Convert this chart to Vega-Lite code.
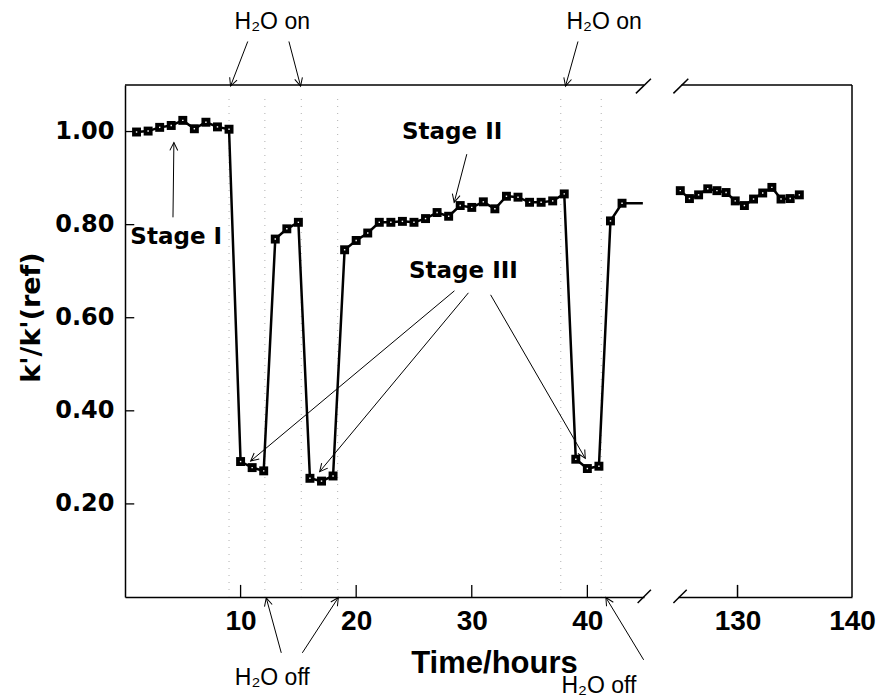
{
  "$schema": "https://vega.github.io/schema/vega-lite/v6.json",
  "padding": {"left": 17, "top": 10, "right": 5, "bottom": 0},
  "background": "white",
  "bounds": "flush",
  "spacing": 34,
  "config": {
    "view": {"stroke": null},
    "axis": {"grid": false, "ticks": false, "domainColor": "black", "domainWidth": 1.5, "labelColor": "black", "titleColor": "black", "labelFlush": false, "labelOverlap": false}
  },
  "datasets": {
    "left": [
      {"hour": 1, "k": 0.999, "pt": 1}, {"hour": 2, "k": 1.001, "pt": 1}, {"hour": 3, "k": 1.009, "pt": 1},
      {"hour": 4, "k": 1.013, "pt": 1}, {"hour": 5, "k": 1.024, "pt": 1}, {"hour": 6, "k": 1.006, "pt": 1},
      {"hour": 7, "k": 1.020, "pt": 1}, {"hour": 8, "k": 1.010, "pt": 1}, {"hour": 9, "k": 1.005, "pt": 1},
      {"hour": 10, "k": 0.291, "pt": 1}, {"hour": 11, "k": 0.278, "pt": 1}, {"hour": 12, "k": 0.271, "pt": 1},
      {"hour": 13, "k": 0.769, "pt": 1}, {"hour": 14, "k": 0.791, "pt": 1}, {"hour": 15, "k": 0.805, "pt": 1},
      {"hour": 16, "k": 0.255, "pt": 1}, {"hour": 17, "k": 0.249, "pt": 1}, {"hour": 18, "k": 0.260, "pt": 1},
      {"hour": 19, "k": 0.746, "pt": 1}, {"hour": 20, "k": 0.766, "pt": 1}, {"hour": 21, "k": 0.782, "pt": 1},
      {"hour": 22, "k": 0.805, "pt": 1}, {"hour": 23, "k": 0.805, "pt": 1}, {"hour": 24, "k": 0.807, "pt": 1},
      {"hour": 25, "k": 0.805, "pt": 1}, {"hour": 26, "k": 0.813, "pt": 1}, {"hour": 27, "k": 0.826, "pt": 1},
      {"hour": 28, "k": 0.818, "pt": 1}, {"hour": 29, "k": 0.841, "pt": 1}, {"hour": 30, "k": 0.837, "pt": 1},
      {"hour": 31, "k": 0.849, "pt": 1}, {"hour": 32, "k": 0.834, "pt": 1}, {"hour": 33, "k": 0.861, "pt": 1},
      {"hour": 34, "k": 0.859, "pt": 1}, {"hour": 35, "k": 0.848, "pt": 1}, {"hour": 36, "k": 0.848, "pt": 1},
      {"hour": 37, "k": 0.851, "pt": 1}, {"hour": 38, "k": 0.866, "pt": 1}, {"hour": 39, "k": 0.296, "pt": 1},
      {"hour": 40, "k": 0.276, "pt": 1}, {"hour": 41, "k": 0.281, "pt": 1}, {"hour": 42, "k": 0.808, "pt": 1},
      {"hour": 43, "k": 0.846, "pt": 1}, {"hour": 44.8, "k": 0.846, "pt": 0}
    ],
    "right": [
      {"hour": 125.0, "k": 0.873}, {"hour": 125.8, "k": 0.856}, {"hour": 126.6, "k": 0.864},
      {"hour": 127.4, "k": 0.877}, {"hour": 128.2, "k": 0.873}, {"hour": 129.0, "k": 0.869},
      {"hour": 129.8, "k": 0.851}, {"hour": 130.6, "k": 0.841}, {"hour": 131.4, "k": 0.855},
      {"hour": 132.2, "k": 0.868}, {"hour": 133.0, "k": 0.880}, {"hour": 133.8, "k": 0.855},
      {"hour": 134.6, "k": 0.856}, {"hour": 135.4, "k": 0.864}
    ],
    "dots": [
      {"hour": 9.0, "k": 0, "k2": 1.08}, {"hour": 12.1, "k": 0, "k2": 1.08}, {"hour": 15.25, "k": 0, "k2": 1.08},
      {"hour": 18.4, "k": 0, "k2": 1.08}, {"hour": 37.7, "k": 0, "k2": 1.08}, {"hour": 41.2, "k": 0, "k2": 1.08}
    ],
    "frameL": [
      {"hour": 0, "hour2": 44.9, "k": 1.1, "k2": 1.1}
    ],
    "ticksL": [
      {"hour": 10, "hour2": 10, "k": 0, "k2": 0.026},
      {"hour": 20, "hour2": 20, "k": 0, "k2": 0.026},
      {"hour": 30, "hour2": 30, "k": 0, "k2": 0.026},
      {"hour": 40, "hour2": 40, "k": 0, "k2": 0.026},
      {"hour": 0, "hour2": 0.8, "k": 0.2, "k2": 0.2},
      {"hour": 0, "hour2": 0.8, "k": 0.4, "k2": 0.4},
      {"hour": 0, "hour2": 0.8, "k": 0.6, "k2": 0.6},
      {"hour": 0, "hour2": 0.8, "k": 0.8, "k2": 0.8},
      {"hour": 0, "hour2": 0.8, "k": 1.0, "k2": 1.0}
    ],
    "frameR": [
      {"hour": 125.1, "hour2": 140, "k": 1.1, "k2": 1.1},
      {"hour": 140, "hour2": 140, "k": 0, "k2": 1.1},
      {"hour": 130, "hour2": 130, "k": 0, "k2": 0.026}
    ],
    "labels": [
      {"hour": 4.43, "k": 0.7735, "label": "Stage I", "kind": "stage"},
      {"hour": 28.3, "k": 0.9985, "label": "Stage II", "kind": "stage"},
      {"hour": 29.28, "k": 0.7007, "label": "Stage III", "kind": "stage"},
      {"hour": 12.74, "k": 1.2363, "label": "H₂O on", "kind": "water"},
      {"hour": 41.45, "k": 1.2363, "label": "H₂O on", "kind": "water"},
      {"hour": 12.74, "k": -0.1736, "label": "H₂O off", "kind": "water"},
      {"hour": 41.0, "k": -0.1907, "label": "H₂O off", "kind": "water"}
    ],
    "arrows": [
      {"hour": 10.62, "k": 1.1935, "hour2": 9.13, "k2": 1.0977, "ang": -159},
      {"hour": 14.18, "k": 1.1935, "hour2": 15.19, "k2": 1.0977, "ang": 165.3},
      {"hour": 39.19, "k": 1.1935, "hour2": 38.11, "k2": 1.0977, "ang": -164.4},
      {"hour": 13.52, "k": -0.12, "hour2": 12.22, "k2": -0.002, "ang": -15.3},
      {"hour": 15.34, "k": -0.12, "hour2": 18.46, "k2": -0.001, "ang": 32.9},
      {"hour": 44.87, "k": -0.135, "hour2": 41.6, "k2": -0.001, "ang": -31},
      {"hour": 4.15, "k": 0.8157, "hour2": 4.23, "k2": 0.9764, "ang": 0.8},
      {"hour": 29.57, "k": 0.9514, "hour2": 28.48, "k2": 0.8479, "ang": -165.4},
      {"hour": 28.5, "k": 0.6578, "hour2": 10.87, "k2": 0.2921, "ang": -130},
      {"hour": 29.71, "k": 0.6535, "hour2": 16.84, "k2": 0.2693, "ang": -140.3},
      {"hour": 31.63, "k": 0.6492, "hour2": 39.82, "k2": 0.2978, "ang": 150}
    ],
    "slashL": [
      {"hour": 44.2, "k": 1.082, "hour2": 45.5, "k2": 1.1136},
      {"hour": 44.35, "k": -0.0129, "hour2": 45.5, "k2": 0.0156}
    ],
    "slashR": [
      {"hour": 124.4, "k": 1.082, "hour2": 125.7, "k2": 1.1136},
      {"hour": 124.4, "k": -0.0129, "hour2": 125.56, "k2": 0.0156}
    ]
  },
  "hconcat": [
    {
      "width": 519,
      "height": 512,
      "encoding": {
        "x": {
          "field": "hour", "type": "quantitative", "title": "Time/hours",
          "scale": {"domain": [0, 44.9], "nice": false, "zero": false},
          "axis": {
            "values": [10, 20, 30, 40], "labelPadding": 10,
            "labelFont": "Liberation Sans", "labelFontWeight": "bold", "labelFontSize": 28,
            "titleFont": "Liberation Sans", "titleFontWeight": "bold", "titleFontSize": 31,
            "titleX": 369, "titleY": 66, "titleBaseline": "middle", "titleAlign": "center"
          }
        },
        "y": {
          "field": "k", "type": "quantitative", "title": "k'/k'(ref)",
          "scale": {"domain": [0, 1.1], "nice": false},
          "axis": {
            "values": [0.2, 0.4, 0.6, 0.8, 1.0], "format": ".2f", "labelPadding": 11,
            "labelFont": "DejaVu Sans", "labelFontWeight": "bold", "labelFontSize": 24,
            "titleFont": "DejaVu Sans", "titleFontWeight": "bold", "titleFontSize": 27,
            "titleX": -94, "titleY": 232, "titleAngle": -90, "titleBaseline": "middle", "titleAlign": "center"
          }
        }
      },
      "layer": [
        {
          "data": {"name": "dots"},
          "mark": {"type": "rule", "strokeDash": [1, 6], "color": "#b0b0b0", "strokeWidth": 1},
          "encoding": {"y2": {"field": "k2"}}
        },
        {
          "data": {"name": "frameL"},
          "mark": {"type": "rule", "color": "black", "strokeWidth": 1.5},
          "encoding": {"x2": {"field": "hour2"}, "y2": {"field": "k2"}}
        },
        {
          "data": {"name": "ticksL"},
          "mark": {"type": "rule", "color": "black", "strokeWidth": 1.3},
          "encoding": {"x2": {"field": "hour2"}, "y2": {"field": "k2"}}
        },
        {
          "data": {"name": "left"},
          "mark": {"type": "line", "color": "black", "strokeWidth": 2.5}
        },
        {
          "data": {"name": "left"},
          "transform": [{"filter": "datum.pt == 1"}],
          "mark": {"type": "point", "shape": "square", "filled": true, "color": "black", "size": 80, "opacity": 1}
        },
        {
          "data": {"name": "left"},
          "transform": [{"filter": "datum.pt == 1"}],
          "mark": {"type": "point", "shape": "square", "filled": true, "color": "white", "size": 2, "opacity": 1}
        },
        {
          "data": {"name": "arrows"},
          "mark": {"type": "rule", "color": "black", "strokeWidth": 1},
          "encoding": {"x2": {"field": "hour2"}, "y2": {"field": "k2"}}
        },
        {
          "data": {"name": "arrows"},
          "mark": {"type": "point", "shape": "M -0.5 1 L 0 0 L 0.5 1", "filled": false, "color": "black", "strokeWidth": 1, "size": 250, "opacity": 1},
          "encoding": {
            "x": {"field": "hour2", "type": "quantitative", "title": "Time/hours"},
            "y": {"field": "k2", "type": "quantitative", "title": "k'/k'(ref)"},
            "angle": {"field": "ang", "type": "quantitative", "scale": null}
          }
        },
        {
          "data": {"name": "labels"},
          "transform": [{"filter": "datum.kind == 'stage'"}],
          "mark": {"type": "text", "font": "DejaVu Sans", "fontWeight": "bold", "fontSize": 23, "align": "center", "baseline": "middle", "color": "black"},
          "encoding": {"text": {"field": "label"}}
        },
        {
          "data": {"name": "labels"},
          "transform": [{"filter": "datum.kind == 'water'"}],
          "mark": {"type": "text", "font": "Liberation Sans", "fontSize": 23, "align": "center", "baseline": "middle", "color": "black"},
          "encoding": {"text": {"field": "label"}}
        },
        {
          "data": {"name": "slashL"},
          "mark": {"type": "rule", "color": "black", "strokeWidth": 1.5},
          "encoding": {"x2": {"field": "hour2"}, "y2": {"field": "k2"}}
        }
      ]
    },
    {
      "width": 174,
      "height": 512,
      "encoding": {
        "x": {
          "field": "hour", "type": "quantitative", "title": null,
          "scale": {"domain": [124.8, 140], "nice": false, "zero": false},
          "axis": {
            "values": [130, 140], "labelPadding": 10,
            "labelFont": "Liberation Sans", "labelFontWeight": "bold", "labelFontSize": 28
          }
        },
        "y": {
          "field": "k", "type": "quantitative",
          "scale": {"domain": [0, 1.1], "nice": false},
          "axis": null
        }
      },
      "layer": [
        {
          "data": {"name": "frameR"},
          "mark": {"type": "rule", "color": "black", "strokeWidth": 1.5},
          "encoding": {"x2": {"field": "hour2"}, "y2": {"field": "k2"}}
        },
        {
          "data": {"name": "right"},
          "mark": {"type": "line", "color": "black", "strokeWidth": 2.5}
        },
        {
          "data": {"name": "right"},
          "mark": {"type": "point", "shape": "square", "filled": true, "color": "black", "size": 80, "opacity": 1}
        },
        {
          "data": {"name": "right"},
          "mark": {"type": "point", "shape": "square", "filled": true, "color": "white", "size": 2, "opacity": 1}
        },
        {
          "data": {"name": "slashR"},
          "mark": {"type": "rule", "color": "black", "strokeWidth": 1.5},
          "encoding": {"x2": {"field": "hour2"}, "y2": {"field": "k2"}}
        }
      ]
    }
  ]
}
